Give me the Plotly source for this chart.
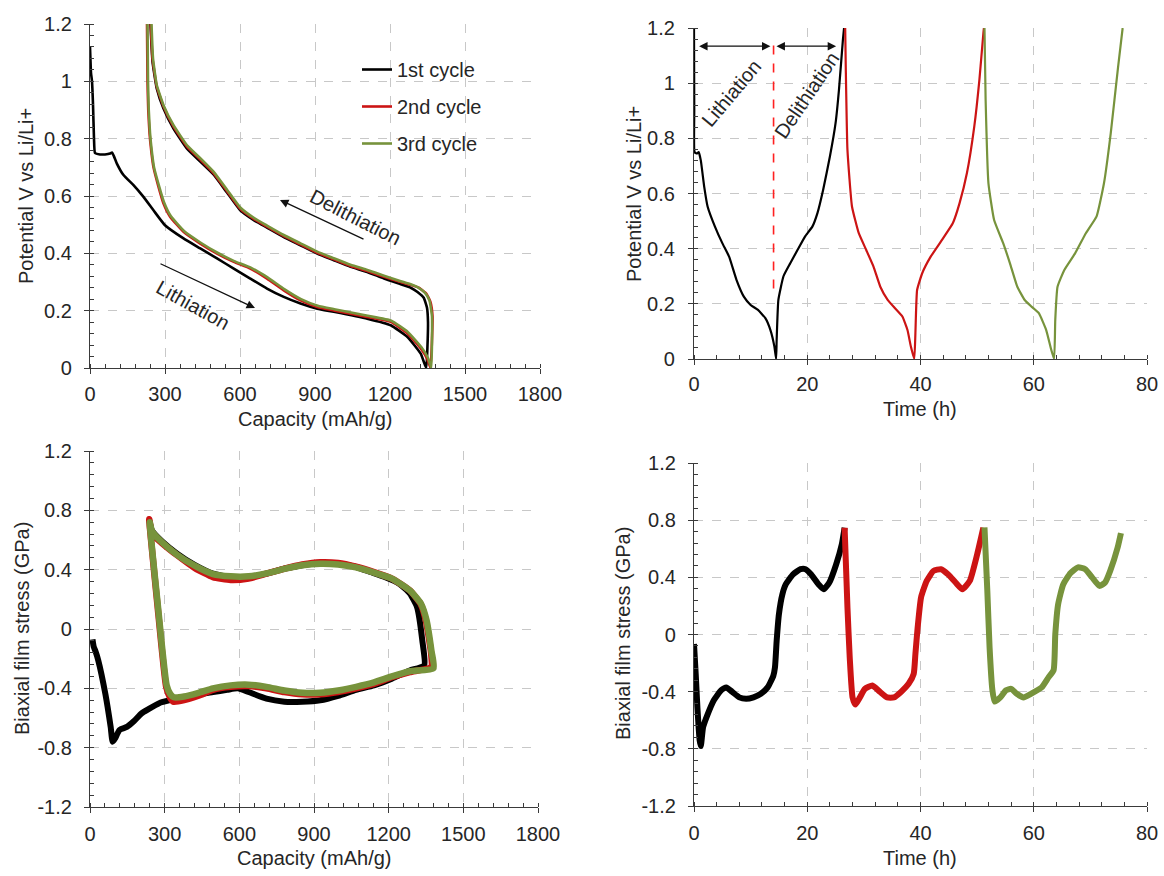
import plotly.graph_objects as go

# ---------------- data: potential vs capacity (top-left) ----------------
cap_c1 = [0, 4, 8, 12, 16, 20, 40, 60, 80, 88, 95, 107, 134, 174, 214, 254, 300, 374, 441, 508, 575,
          641, 708, 775, 842, 909, 975, 1109, 1203, 1270, 1323, 1345,
          1350, 1352, 1348, 1335, 1310, 1283, 1243, 1176, 1109, 1042, 975, 909, 842, 775, 708, 655,
          601, 548, 494, 441, 388, 334, 294, 267, 250, 242]
v_c1 = [1.12, 1.03, 1.0, 0.92, 0.8, 0.75, 0.745, 0.745, 0.748, 0.752, 0.74, 0.714, 0.673, 0.638, 0.597,
        0.55, 0.498, 0.452, 0.417, 0.382, 0.347, 0.312, 0.277, 0.248, 0.225, 0.207, 0.196, 0.172, 0.149,
        0.108, 0.05, 0.0,
        0.08, 0.16, 0.21, 0.245, 0.265, 0.28, 0.292, 0.312, 0.335, 0.353, 0.376, 0.399, 0.428, 0.457,
        0.49, 0.516, 0.55, 0.612, 0.675, 0.72, 0.765, 0.835, 0.905, 0.975, 1.07, 1.2]

cap_c2 = [228, 230, 233, 238, 246, 254, 274, 294, 321, 374, 441, 508, 575, 641, 708, 775, 842, 909, 975,
          1109, 1203, 1270, 1323, 1350, 1362,
          1368, 1370, 1362, 1345, 1315, 1283, 1243, 1176, 1109, 1042, 975, 909, 842, 775, 708, 655,
          601, 548, 494, 441, 388, 334, 294, 267, 250, 243]
v_c2 = [1.2, 1.0, 0.9, 0.82, 0.75, 0.70, 0.632, 0.574, 0.527, 0.475, 0.434, 0.399, 0.37, 0.347, 0.312,
        0.271, 0.236, 0.213, 0.201, 0.178, 0.161, 0.12, 0.068, 0.03, 0.0,
        0.1, 0.18, 0.23, 0.26, 0.28, 0.29, 0.3, 0.318, 0.338, 0.356, 0.379, 0.402, 0.431, 0.46, 0.493,
        0.52, 0.555, 0.617, 0.68, 0.727, 0.772, 0.842, 0.912, 0.982, 1.08, 1.2]

cap_c3 = [230, 232, 235, 240, 248, 256, 276, 296, 323, 376, 443, 510, 577, 643, 710, 777, 844, 911, 977,
          1111, 1205, 1272, 1325, 1352, 1365,
          1368, 1368, 1358, 1340, 1310, 1283, 1243, 1176, 1109, 1042, 975, 909, 842, 775, 708, 655,
          601, 548, 494, 441, 388, 334, 294, 267, 252, 246]
v_c3 = [1.2, 1.0, 0.9, 0.82, 0.75, 0.70, 0.635, 0.578, 0.53, 0.478, 0.437, 0.402, 0.373, 0.35, 0.316,
        0.275, 0.24, 0.217, 0.205, 0.182, 0.165, 0.125, 0.073, 0.035, 0.0,
        0.1, 0.18, 0.235, 0.262, 0.282, 0.292, 0.303, 0.322, 0.342, 0.36, 0.383, 0.406, 0.435, 0.464,
        0.497, 0.524, 0.56, 0.622, 0.685, 0.732, 0.777, 0.847, 0.917, 0.987, 1.08, 1.2]

# ---------------- data: potential vs time (top-right) ----------------
t_v1 = [0, 0.05, 0.1, 0.5, 0.83, 1.2, 1.8, 2.4, 3.7, 5.0, 6.2, 7.5, 8.8, 10.0, 11.3, 12.6, 13.5, 14.2,
        14.5, 14.6, 14.9, 15.8, 17.0, 18.3, 19.6, 20.9, 21.8, 22.8, 24.0, 25.0, 25.6, 26.3, 26.5]
v_t1 = [1.2, 0.9, 0.75, 0.745, 0.75, 0.72, 0.625, 0.553, 0.48, 0.42, 0.371, 0.287, 0.226, 0.196, 0.178,
        0.148, 0.105, 0.045, 0.0, 0.07, 0.214, 0.30, 0.347, 0.396, 0.444, 0.48, 0.529, 0.613, 0.734,
        0.855, 0.976, 1.158, 1.2]
t_v2 = [26.7, 26.8, 27.1, 27.9, 29.1, 30.4, 31.7, 32.9, 34.2, 35.5, 36.8, 37.7, 38.3, 38.9, 39.1, 39.4,
        40.3, 41.8, 43.8, 45.7, 46.9, 48.2, 49.5, 50.4, 51.1, 51.2]
v_t2 = [1.2, 1.06, 0.758, 0.553, 0.456, 0.396, 0.335, 0.262, 0.214, 0.184, 0.154, 0.105, 0.045, 0.0,
        0.093, 0.25, 0.311, 0.371, 0.432, 0.492, 0.565, 0.674, 0.843, 1.012, 1.18, 1.2]
t_v3 = [51.3, 51.5, 52.0, 53.0, 54.6, 55.8, 57.1, 58.4, 59.6, 60.9, 62.2, 63.1, 63.6, 63.8, 64.2, 65.4,
        67.3, 69.2, 71.1, 72.4, 73.6, 74.9, 75.7]
v_t3 = [1.2, 0.94, 0.637, 0.504, 0.42, 0.347, 0.262, 0.214, 0.19, 0.166, 0.105, 0.033, 0.0, 0.142,
        0.262, 0.323, 0.383, 0.456, 0.517, 0.637, 0.819, 1.06, 1.2]

# ---------------- data: stress vs capacity (bottom-left) ----------------
cap_s1 = [10, 15, 22, 33, 62, 83, 91, 100, 119, 148, 177, 206, 235, 278, 321, 378, 436, 494, 551, 594,
          637, 709, 781, 853, 925, 997, 1069, 1141, 1213, 1285, 1343,
          1335, 1314, 1285, 1242, 1184, 1127, 1069, 997, 925, 853, 781, 709, 637, 565, 494, 422, 350,
          292, 249, 238]
s_c1 = [-0.07, -0.12, -0.15, -0.21, -0.44, -0.66, -0.76, -0.74, -0.68, -0.66, -0.62, -0.57, -0.54, -0.50,
        -0.48, -0.46, -0.44, -0.425, -0.41, -0.40, -0.425, -0.47, -0.49, -0.49, -0.48, -0.45, -0.41,
        -0.38, -0.335, -0.28, -0.245,
        -0.076, 0.148, 0.24, 0.305, 0.35, 0.384, 0.418, 0.44, 0.445, 0.43, 0.407, 0.373, 0.35, 0.35,
        0.373, 0.43, 0.508, 0.587, 0.665, 0.733]
cap_s2 = [238, 270, 306, 321, 335, 378, 436, 494, 565, 637, 709, 781, 853, 925, 997, 1069, 1141, 1213,
          1285, 1371,
          1371, 1349, 1328, 1285, 1213, 1141, 1069, 997, 925, 853, 781, 709, 637, 565, 494, 422, 350,
          292, 249, 238]
s_c2 = [0.74, 0.18, -0.39, -0.46, -0.49, -0.48, -0.45, -0.41, -0.39, -0.385, -0.40, -0.425, -0.44,
        -0.44, -0.425, -0.40, -0.37, -0.325, -0.29, -0.256,
        -0.17, 0.06, 0.17, 0.26, 0.34, 0.384, 0.42, 0.445, 0.45, 0.435, 0.407, 0.373, 0.34, 0.33, 0.35,
        0.41, 0.497, 0.575, 0.643, 0.74]
cap_s3 = [240, 272, 308, 323, 337, 378, 436, 494, 565, 637, 709, 781, 853, 925, 997, 1069, 1141, 1213,
          1285, 1380,
          1372, 1352, 1330, 1285, 1213, 1141, 1069, 997, 925, 853, 781, 709, 637, 565, 494, 422, 350,
          292, 249, 240]
s_c3 = [0.72, 0.17, -0.38, -0.44, -0.46, -0.455, -0.43, -0.40, -0.38, -0.375, -0.39, -0.415, -0.43,
        -0.43, -0.415, -0.39, -0.36, -0.32, -0.285, -0.265,
        -0.15, 0.06, 0.17, 0.26, 0.34, 0.38, 0.415, 0.435, 0.44, 0.43, 0.405, 0.375, 0.355, 0.355, 0.37,
        0.425, 0.5, 0.58, 0.66, 0.72]

# ---------------- data: stress vs time (bottom-right) ----------------
t_s1 = [0, 0.3, 0.6, 1.0, 1.2, 1.6, 2.2, 3.5, 4.8, 5.7, 6.7, 8.0, 9.2, 10.5, 11.8, 13.0, 14.0, 14.3,
        14.6, 15.0, 15.6, 16.2, 17.5, 18.8, 19.7, 20.7, 22.0, 22.9, 23.9, 25.1, 26.1, 26.6]
s_t1 = [-0.066, -0.275, -0.51, -0.74, -0.78, -0.65, -0.58, -0.46, -0.39, -0.37, -0.40, -0.44, -0.45,
        -0.44, -0.415, -0.37, -0.29, -0.23, -0.043, 0.143, 0.28, 0.35, 0.42, 0.457, 0.457, 0.42, 0.35,
        0.317, 0.364, 0.49, 0.63, 0.747]
t_s2 = [26.6, 27.1, 27.5, 28.0, 28.5, 29.3, 30.2, 31.5, 32.8, 34.1, 35.3, 36.6, 37.9, 38.8, 39.1, 39.5,
        40.1, 41.1, 42.3, 43.6, 44.9, 46.2, 47.4, 48.7, 50.0, 51.1]
s_t2 = [0.747, 0.19, -0.16, -0.44, -0.49, -0.44, -0.38, -0.357, -0.40, -0.44, -0.44, -0.40, -0.345,
        -0.275, -0.136, 0.05, 0.26, 0.375, 0.445, 0.457, 0.42, 0.364, 0.317, 0.375, 0.56, 0.747]
t_s3 = [51.3, 51.8, 52.2, 52.7, 53.1, 54.1, 55.1, 56.0, 57.0, 58.2, 59.5, 61.4, 62.6, 63.5, 63.8, 64.3,
        65.2, 66.5, 67.8, 69.1, 70.3, 71.6, 72.6, 73.5, 74.8, 75.4]
s_t3 = [0.75, 0.305, -0.09, -0.39, -0.47, -0.44, -0.39, -0.38, -0.415, -0.44, -0.415, -0.37, -0.30,
        -0.25, 0.0, 0.21, 0.35, 0.43, 0.47, 0.457, 0.4, 0.34, 0.364, 0.445, 0.607, 0.71]

cycle_names = ["1st cycle", "2nd cycle", "3rd cycle"]
colors = ["#000000", "#CC1414", "#77933C"]

y_top_ticks = [0, 0.2, 0.4, 0.6, 0.8, 1.0, 1.2]
y_top_text = ["0", "0.2", "0.4", "0.6", "0.8", "1", "1.2"]
y_bot_ticks = [-1.2, -0.8, -0.4, 0, 0.4, 0.8, 1.2]
y_bot_text = ["-1.2", "-0.8", "-0.4", "0", "0.4", "0.8", "1.2"]

W, H = 1164, 876
fig = go.Figure()

# top-left
for i, (cx, vy) in enumerate([(cap_c1, v_c1), (cap_c2, v_c2), (cap_c3, v_c3)]):
    fig.add_trace(go.Scatter(x=cx, y=vy, mode="lines", name=cycle_names[i], legendgroup=str(i),
                             line=dict(color=colors[i], width=2.6, shape="spline", smoothing=0.4),
                             xaxis="x", yaxis="y", showlegend=True))
# top-right
for i, (tx, vy) in enumerate([(t_v1, v_t1), (t_v2, v_t2), (t_v3, v_t3)]):
    fig.add_trace(go.Scatter(x=tx, y=vy, mode="lines", name=cycle_names[i],
                             line=dict(color=colors[i], width=2.2, shape="spline", smoothing=0.4),
                             xaxis="x2", yaxis="y2", showlegend=False))
# bottom-left (noisy bands drawn as wide lines)
for i, (cx, sy) in enumerate([(cap_s1, s_c1), (cap_s2, s_c2), (cap_s3, s_c3)]):
    fig.add_trace(go.Scatter(x=cx, y=sy, mode="lines", name=cycle_names[i],
                             line=dict(color=colors[i], width=[6, 6.5, 6.5][i], shape="spline", smoothing=0.5),
                             xaxis="x3", yaxis="y3", showlegend=False))
# bottom-right
for i, (tx, sy) in enumerate([(t_s1, s_t1), (t_s2, s_t2), (t_s3, s_t3)]):
    fig.add_trace(go.Scatter(x=tx, y=sy, mode="lines", name=cycle_names[i],
                             line=dict(color=colors[i], width=6, shape="spline", smoothing=0.5),
                             xaxis="x4", yaxis="y4", showlegend=False))


def px_dom(a, b, total, flip=False):
    if flip:
        return [1 - b / total, 1 - a / total]
    return [a / total, b / total]


def axis(rng, dom, anchor, standoff, dtick=None, minor_dtick=None, tickvals=None, ticktext=None):
    d = dict(range=rng, domain=dom, anchor=anchor, showline=True, linecolor="#3a3a3a", linewidth=1.3,
             ticks="outside", ticklen=5, tickwidth=1.2, tickcolor="#3a3a3a", automargin=False,
             showgrid=True, gridcolor="#c8c8c8", gridwidth=1, griddash="dash", zeroline=False,
             tickfont=dict(size=20, color="#262626", family="Liberation Sans, Arial, sans-serif"),
             ticklabelstandoff=standoff, fixedrange=True,
             minor=dict(dtick=minor_dtick, ticks="inside", ticklen=4, tickwidth=1, tickcolor="#3a3a3a",
                        showgrid=False))
    if tickvals is not None:
        d.update(tickmode="array", tickvals=tickvals, ticktext=ticktext)
        d["minor"]["tick0"] = tickvals[0]
    else:
        d.update(tick0=0, dtick=dtick)
        d["minor"]["tick0"] = 0
    return d


layout = dict(
    width=W, height=H, margin=dict(l=0, r=0, t=0, b=0, autoexpand=False),
    paper_bgcolor="white", plot_bgcolor="white",
    font=dict(family="Liberation Sans, Arial, sans-serif", color="#262626"),
    xaxis=axis([0, 1800], px_dom(90, 540, W), "y", 3, dtick=300, minor_dtick=60),
    yaxis=axis([0, 1.2], px_dom(24, 368, H, True), "x", 8, minor_dtick=0.04,
               tickvals=y_top_ticks, ticktext=y_top_text),
    xaxis2=axis([0, 80], px_dom(694, 1147, W), "y2", 2, dtick=20, minor_dtick=4),
    yaxis2=axis([0, 1.2], px_dom(28, 359, H, True), "x2", 9, minor_dtick=0.04,
                tickvals=y_top_ticks, ticktext=y_top_text),
    xaxis3=axis([0, 1800], px_dom(90, 538, W), "y3", 4, dtick=300, minor_dtick=60),
    yaxis3=axis([-1.2, 1.2], px_dom(451, 807, H, True), "x3", 8, minor_dtick=0.08,
                tickvals=y_bot_ticks, ticktext=y_bot_text),
    xaxis4=axis([0, 80], px_dom(694, 1147, W), "y4", 4, dtick=20, minor_dtick=4),
    yaxis4=axis([-1.2, 1.2], px_dom(463, 806, H, True), "x4", 8, minor_dtick=0.08,
                tickvals=y_bot_ticks, ticktext=y_bot_text),
    legend=dict(x=357 / W, y=1 - 50 / H, xanchor="left", yanchor="top", bgcolor="rgba(0,0,0,0)",
                font=dict(size=20, color="#262626"), traceorder="grouped", tracegroupgap=8,
                itemwidth=30),
    showlegend=True,
)
fig.update_layout(**layout)

tfont = dict(size=20, color="#262626", family="Liberation Sans, Arial, sans-serif")
ann = []


def title(text, xp, yp, angle=0):
    ann.append(dict(text=text, x=xp / W, y=1 - yp / H, xref="paper", yref="paper", showarrow=False,
                    textangle=angle, font=tfont, xanchor="center", yanchor="middle"))


title("Capacity (mAh/g)", 315, 419)
title("Potential V vs Li/Li+", 26, 196, -90)
title("Time (h)", 920, 409)
title("Potential V vs Li/Li+", 634, 194, -90)
title("Capacity (mAh/g)", 314, 858)
title("Biaxial film stress (GPa)", 22, 629, -90)
title("Time (h)", 920, 858)
title("Biaxial film stress (GPa)", 623, 634, -90)

# top-left arrows and labels
ann.append(dict(x=760, y=0.586, ax=1100, ay=0.447, xref="x", yref="y", axref="x", ayref="y",
                showarrow=True, arrowhead=2, arrowsize=1.3, arrowwidth=1.3, arrowcolor="#111", text=""))
ann.append(dict(x=660, y=0.209, ax=276, ay=0.366, xref="x", yref="y", axref="x", ayref="y",
                showarrow=True, arrowhead=2, arrowsize=1.3, arrowwidth=1.3, arrowcolor="#111", text=""))
ann.append(dict(x=1060, y=0.527, xref="x", yref="y", text="Delithiation", showarrow=False,
                textangle=27, font=tfont))
ann.append(dict(x=412, y=0.22, xref="x", yref="y", text="Lithiation", showarrow=False,
                textangle=29, font=tfont))

# top-right double arrows and labels
ann.append(dict(x=13.5, y=1.134, ax=0.64, ay=1.134, xref="x2", yref="y2", axref="x2", ayref="y2",
                showarrow=True, arrowhead=2, startarrowhead=2, arrowside="end+start", arrowsize=1.3,
                startarrowsize=1.3, arrowwidth=1.3, arrowcolor="#111", text=""))
ann.append(dict(x=25.1, y=1.134, ax=14.3, ay=1.134, xref="x2", yref="y2", axref="x2", ayref="y2",
                showarrow=True, arrowhead=2, startarrowhead=2, arrowside="end+start", arrowsize=1.3,
                startarrowsize=1.3, arrowwidth=1.3, arrowcolor="#111", text=""))
ann.append(dict(x=6.6, y=0.965, xref="x2", yref="y2", text="Lithiation", showarrow=False,
                textangle=-50, font=tfont))
ann.append(dict(x=19.9, y=0.958, xref="x2", yref="y2", text="Delithiation", showarrow=False,
                textangle=-56, font=tfont))
fig.update_layout(annotations=ann)

fig.add_shape(type="line", x0=14.05, x1=14.05, y0=0.256, y1=1.165, xref="x2", yref="y2",
              line=dict(color="#FF2020", width=1.6, dash="dash"))

fig.write_html("out.html")
